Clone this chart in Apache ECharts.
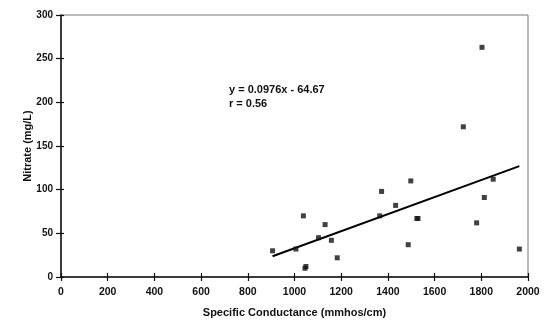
<!DOCTYPE html>
<html>
<head>
<meta charset="utf-8">
<script src="https://cdn.jsdelivr.net/npm/echarts@6/dist/echarts.min.js"></script>
<style>
  html, body { margin: 0; padding: 0; background: #fff; }
  #chart { width: 550px; height: 324px; }
</style>
</head>
<body>
<div id="chart"></div>
<script>
// Specific conductance (mmhos/cm) of each well sample
const conductance = [906, 1006, 1038, 1049, 1045, 1131, 1103, 1158, 1183, 1365, 1373,
                     1433, 1498, 1487, 1524, 1529, 1723, 1851, 1813, 1780, 1963, 1803];
// Nitrate concentration (mg/L) of each sample
const nitrate = [30, 32, 70, 12, 10, 60, 45, 42, 22, 70, 98,
                 82, 110, 37, 67, 67, 172, 112, 91, 62, 32, 263];

// Least-squares fit reported on the chart
const slope = 0.0976;
const intercept = -64.67;
const fitRange = [906, 1963];
const fitLabel = ['y = 0.0976x - 64.67', 'r = 0.56'];

const xTicks = { min: 0, max: 2000, interval: 200 };
const yTicks = { min: 0, max: 300, interval: 50 };

const points = conductance.map((c, i) => [c, nitrate[i]]);
const fitLine = fitRange.map(x => [x, slope * x + intercept]);

const font = 'Liberation Sans, Arial, sans-serif';
const chart = echarts.init(document.getElementById('chart'));

const baseX = {
  type: 'value', min: xTicks.min, max: xTicks.max, interval: xTicks.interval,
  splitLine: { show: false }
};
const baseY = {
  type: 'value', min: yTicks.min, max: yTicks.max, interval: yTicks.interval,
  splitLine: { show: false }
};

chart.setOption({
  animation: false,
  backgroundColor: '#fff',
  grid: {
    left: 61, right: 22, top: 15, bottom: 47,
    show: true, borderColor: '#777', borderWidth: 1
  },
  xAxis: [
    Object.assign({}, baseX, {
      position: 'bottom',
      name: 'Specific Conductance (mmhos/cm)',
      nameLocation: 'middle', nameGap: 30, nameMoveOverlap: false,
      nameTextStyle: { fontFamily: font, fontWeight: 'bold', fontSize: 11, color: '#111' },
      axisLine: { lineStyle: { color: '#111', width: 1.5 } },
      axisTick: { show: true, length: 4, lineStyle: { color: '#111', width: 1.2 } },
      axisLabel: {
        fontFamily: font, fontWeight: 'bold', fontSize: 10.5, color: '#111', margin: 10,
        formatter: v => String(v)
      }
    }),
    Object.assign({}, baseX, {
      position: 'bottom',
      axisLine: { show: false },
      axisTick: { show: true, inside: true, length: 4, lineStyle: { color: '#111', width: 1.2 } },
      axisLabel: { show: false }
    })
  ],
  yAxis: [
    Object.assign({}, baseY, {
      position: 'left',
      name: 'Nitrate (mg/L)',
      nameLocation: 'middle', nameGap: 28, nameMoveOverlap: false,
      nameTextStyle: { fontFamily: font, fontWeight: 'bold', fontSize: 11, color: '#111' },
      axisLine: { lineStyle: { color: '#111', width: 1.5 } },
      axisTick: { show: true, length: 5, lineStyle: { color: '#111', width: 1.2 } },
      axisLabel: { fontFamily: font, fontWeight: 'bold', fontSize: 10, color: '#111', margin: 8 }
    }),
    Object.assign({}, baseY, {
      position: 'left',
      axisLine: { show: false },
      axisTick: { show: true, inside: true, length: 3, lineStyle: { color: '#111', width: 1.2 } },
      axisLabel: { show: false }
    })
  ],
  graphic: [{
    type: 'text',
    left: 229, top: 83,
    style: {
      text: fitLabel.join('\n'),
      font: 'bold 11px ' + font,
      fill: '#111',
      lineHeight: 14
    }
  }],
  series: [
    {
      type: 'line',
      data: fitLine,
      showSymbol: false,
      lineStyle: { color: '#000', width: 2 },
      z: 2
    },
    {
      type: 'scatter',
      data: points,
      symbol: 'rect',
      symbolSize: 5,
      itemStyle: { color: '#111' },
      z: 3
    }
  ]
});
</script>
</body>
</html>
